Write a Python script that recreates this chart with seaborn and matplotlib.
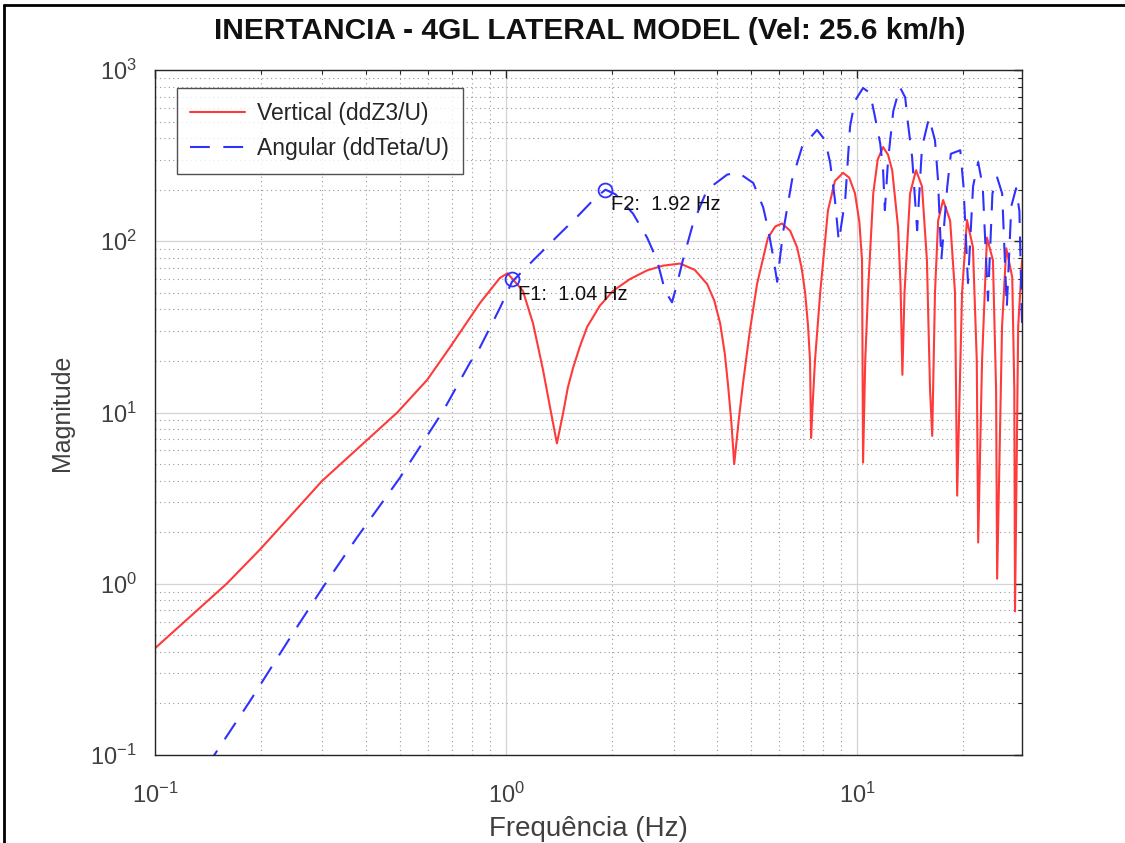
import matplotlib
matplotlib.use("Agg")
import matplotlib.pyplot as plt
import seaborn as sns
from matplotlib.lines import Line2D
from matplotlib.ticker import LogLocator, NullFormatter

# ---- data ----
freq_vert = [0.100, 0.160, 0.200, 0.299, 0.490, 0.596, 0.692, 0.843, 0.960, 1.010,
             1.117, 1.194, 1.274, 1.352, 1.396, 1.452, 1.500, 1.552, 1.620, 1.702,
             1.850, 2.018, 2.250, 2.523, 2.800, 3.133, 3.450, 3.741, 3.920, 4.074,
             4.200, 4.285, 4.380, 4.467, 4.600, 4.732, 4.950, 5.188, 5.572, 5.850,
             6.109, 6.450, 6.745, 6.950, 7.112, 7.250, 7.345, 7.396, 7.470, 7.586,
             7.852, 8.260, 8.650, 9.120, 9.500, 9.863, 10.15, 10.33, 10.40, 10.55,
             10.74, 11.12, 11.45, 11.86, 12.25, 12.59, 13.09, 13.30, 13.46, 13.65,
             14.16, 14.72, 15.31, 15.81, 16.14, 16.37, 16.67, 17.02, 17.58, 18.41,
             19.01, 19.28, 19.91, 20.56, 21.38, 21.93, 22.13, 22.70, 23.44, 24.38,
             24.89, 25.06, 25.88, 26.61, 27.67, 28.05, 28.18, 28.77, 29.51]
mag_vert = [0.42, 1.00, 1.60, 3.98, 10.0, 15.5, 24.0, 43.6, 61.0, 65.0,
            51.3, 33.1, 17.8, 9.33, 6.6, 9.77, 14.0, 18.2, 24.0, 31.6,
            42.0, 51.3, 60.0, 67.6, 72.0, 74.1, 68.0, 56.2, 45.0, 33.1,
            22.0, 14.8, 9.0, 5.0, 9.0, 14.8, 30.0, 56.2, 104.7, 122.0,
            127.0, 115.0, 92.3, 70.0, 50.1, 32.0, 20.0, 7.1, 11.0, 20.0,
            50.1, 151.0, 225.0, 251.0, 235.0, 190.5, 130.0, 77.6, 5.1, 20.0,
            50.1, 190.5, 300.0, 355.0, 320.0, 260.0, 120.0, 55.0, 16.6, 50.1,
            190.5, 260.0, 209.0, 77.6, 13.5, 7.3, 50.1, 132.0, 174.0, 132.0,
            50.1, 3.27, 50.1, 133.0, 92.3, 20.0, 1.74, 20.0, 105.0, 77.6,
            13.5, 1.07, 31.6, 91.0, 61.7, 13.5, 0.69, 31.6, 77.6]

freq_ang = [0.140, 0.1866, 0.247, 0.301, 0.376, 0.499, 0.662, 0.789, 0.843, 0.962,
            1.040, 1.200, 1.400, 1.600, 1.800, 1.920, 2.050, 2.300, 2.523, 2.692,
            2.838, 2.970, 3.069, 3.190, 3.410, 3.740, 4.266, 4.581, 5.060, 5.400,
            5.570, 5.770, 5.920, 6.150, 6.530, 6.970, 7.690, 8.110, 8.380, 8.650,
            8.870, 9.250, 9.550, 9.860, 10.40, 10.89, 11.25, 11.64, 11.86, 12.00,
            12.25, 12.68, 13.24, 13.71, 13.96, 14.35, 14.83, 15.31, 16.03, 16.67,
            17.00, 17.38, 18.07, 18.50, 19.68, 20.10, 20.70, 21.40, 22.13, 22.80,
            23.60, 24.30, 25.06, 25.90, 26.70, 27.50, 28.38, 29.00, 29.50]
mag_ang = [0.085, 0.207, 0.513, 0.955, 1.86, 4.17, 10.2, 19.5, 24.0, 41.0,
           58.0, 78.0, 107.0, 140.0, 180.0, 200.0, 188.0, 145.0, 105.0, 77.6,
           51.3, 44.0, 56.2, 77.6, 127.0, 200.0, 245.0, 252.0, 219.0, 158.0,
           120.0, 81.0, 58.0, 112.0, 229.0, 355.0, 447.0, 389.0, 288.0, 174.0,
           100.0, 174.0, 468.0, 661.0, 785.0, 733.0, 531.0, 372.0, 260.0, 152.0,
           295.0, 575.0, 795.0, 692.0, 490.0, 309.0, 116.0, 355.0, 525.0, 389.0,
           229.0, 78.0, 209.0, 324.0, 340.0, 209.0, 57.0, 209.0, 290.0, 209.0,
           45.0, 190.0, 236.0, 190.0, 41.0, 160.0, 204.0, 150.0, 33.0]

peak_freqs = [1.04, 1.92]
peak_mags = [60.0, 200.0]
peak_labels = ["F1:  1.04 Hz", "F2:  1.92 Hz"]

title_text = "INERTANCIA - 4GL LATERAL MODEL (Vel: 25.6 km/h)"
legend_labels = ["Vertical (ddZ3/U)", "Angular (ddTeta/U)"]

# ---- style ----
sns.set_style("white")
plt.rcParams['font.family'] = ['Liberation Sans', 'DejaVu Sans']
RED = '#ff3a3a'
BLUE = '#3030ff'
TXT = '#262626'

W, H = 1125, 843
fig = plt.figure(figsize=(W / 100, H / 100), dpi=100)
ax = fig.add_axes([155 / W, 1 - 755 / H, (1022 - 155) / W, (755 - 70) / H])
ax.set_xscale('log')
ax.set_yscale('log')

sns.lineplot(x=freq_vert, y=mag_vert, ax=ax, color=RED, linewidth=1.5,
             label=legend_labels[0], sort=False, estimator=None)
sns.lineplot(x=freq_ang, y=mag_ang, ax=ax, color=BLUE, linewidth=1.5,
             linestyle='--', label=legend_labels[1], sort=False, estimator=None)
ax.lines[1].set_dashes((9.5, 6.5))

ax.plot(peak_freqs, peak_mags, linestyle='none', marker='o', markersize=10,
        markerfacecolor='none', markeredgecolor=BLUE, markeredgewidth=1.3)
for f, m, lab in zip(peak_freqs, peak_mags, peak_labels):
    ax.annotate(lab, (f, m), xytext=(6, -15), textcoords='offset pixels',
                fontsize=14.5, ha='left', va='center', color='#111111')

ax.set_xlim(0.1, 29.5)
ax.set_ylim(0.1, 1000)

for axis in (ax.xaxis, ax.yaxis):
    axis.set_major_locator(LogLocator(base=10, numticks=20))
    axis.set_minor_locator(LogLocator(base=10, subs=range(2, 10), numticks=50))
    axis.set_minor_formatter(NullFormatter())

ax.grid(True, which='major', color='#d4d4d4', linewidth=0.9, linestyle='-')
ax.grid(True, which='minor', color='#9a9a9a', linewidth=0.8, linestyle=(0, (1, 3)))
ax.set_axisbelow(True)

ax.tick_params(which='both', direction='in', top=True, right=True, color=TXT)
ax.tick_params(which='major', length=6, width=1, labelsize=17, labelcolor='#404040')
ax.tick_params(axis='x', which='major', pad=20)
ax.tick_params(axis='y', which='major', pad=13)
ax.tick_params(which='minor', length=3, width=0.8)
for sp in ax.spines.values():
    sp.set_color(TXT)
    sp.set_linewidth(1.0)

ax.set_xlabel("Frequência (Hz)", fontsize=20, color='#404040', labelpad=6)
ax.set_ylabel("Magnitude", fontsize=18, color='#404040', labelpad=12)

leg = ax.legend(loc='upper left', bbox_to_anchor=(0.025, 0.974), borderaxespad=0,
                frameon=True, fancybox=False, edgecolor=TXT, fontsize=16.5,
                handlelength=2.4, borderpad=0.6, labelspacing=0.55, handletextpad=0.5)
leg.get_frame().set_linewidth(1.0)

fig.text(0.524, 1 - 31 / H, title_text, ha='center', va='center',
         fontsize=21.5, fontweight='bold', color='#111111')

fig.add_artist(Line2D([4 / W, 4 / W], [0, 1 - 5 / H], transform=fig.transFigure,
                      color='black', linewidth=2))
fig.add_artist(Line2D([4 / W, 1], [1 - 5 / H, 1 - 5 / H], transform=fig.transFigure,
                      color='black', linewidth=2))

fig.savefig("out.png", dpi=100)
